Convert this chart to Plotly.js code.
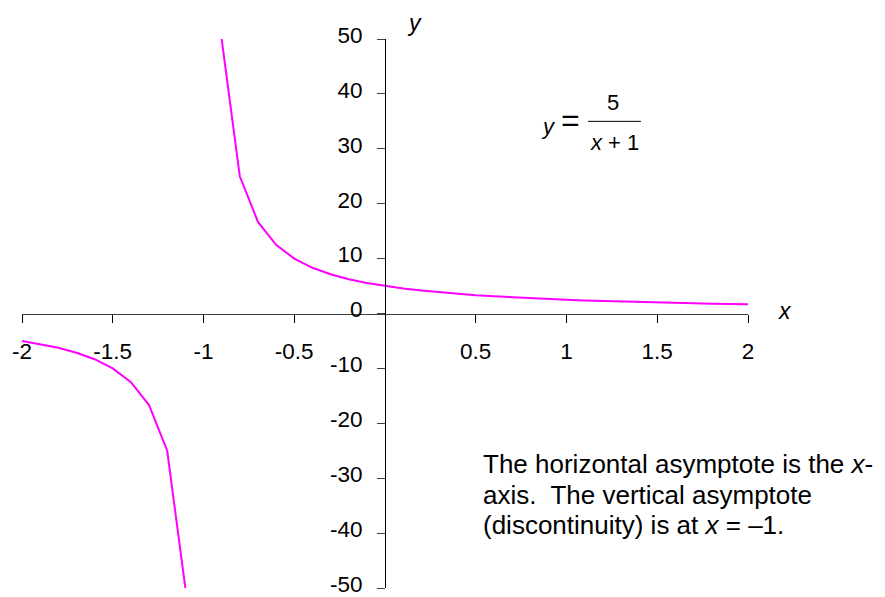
<!DOCTYPE html>
<html>
<head>
<meta charset="utf-8">
<script src="https://cdn.plot.ly/plotly-3.0.1.min.js"></script>
<style>
  html, body { margin: 0; padding: 0; background: #ffffff; }
  #chart { width: 885px; height: 597px; }
</style>
</head>
<body>
<div id="chart"></div>
<script>
// y = 5 / (x + 1), sampled every 0.1 from -2 to 2; the point x = -1 is left out (null)
const xValues = [
  -2, -1.9, -1.8, -1.7, -1.6, -1.5, -1.4, -1.3, -1.2, -1.1,
  -1,
  -0.9, -0.8, -0.7, -0.6, -0.5, -0.4, -0.3, -0.2, -0.1,
  0, 0.1, 0.2, 0.3, 0.4, 0.5, 0.6, 0.7, 0.8, 0.9,
  1, 1.1, 1.2, 1.3, 1.4, 1.5, 1.6, 1.7, 1.8, 1.9, 2
];
const yValues = [
  -5, -5.56, -6.25, -7.14, -8.33, -10, -12.5, -16.67, -25, -50,
  null,
  50, 25, 16.67, 12.5, 10, 8.33, 7.14, 6.25, 5.56,
  5, 4.55, 4.17, 3.85, 3.57, 3.33, 3.13, 2.94, 2.78, 2.63,
  2.5, 2.38, 2.27, 2.17, 2.08, 2, 1.92, 1.85, 1.79, 1.72, 1.67
];

const xRange = [-2, 2];
const yRange = [-50, 50];
const xTickValues = [-2, -1.5, -1, -0.5, 0.5, 1, 1.5, 2];
const xTickLabels = ['-2', '-1.5', '-1', '-0.5', '0.5', '1', '1.5', '2'];
const yTickValues = [-50, -40, -30, -20, -10, 0, 10, 20, 30, 40, 50];
const yTickLabels = ['-50', '-40', '-30', '-20', '-10', '0', '10', '20', '30', '40', '50'];

const FONT = 'Liberation Sans, Arial, sans-serif';

// data units -> paper fractions (the plot area spans the whole domain)
const px = v => (v - xRange[0]) / (xRange[1] - xRange[0]);
const py = v => (v - yRange[0]) / (yRange[1] - yRange[0]);

// axes cross at the origin
const yAxisPos = px(0);
const xAxisPos = py(0);

const trace = {
  x: xValues,
  y: yValues,
  type: 'scatter',
  mode: 'lines',
  connectgaps: false,
  line: { color: '#ff00ff', width: 2 },
  hoverinfo: 'x+y'
};

const textFont = { family: FONT, size: 26, color: '#000000' };
const mathFont = { family: FONT, size: 22, color: '#000000' };

function label(x, y, text, font, xanchor) {
  return { x: px(x), y: py(y), xref: 'paper', yref: 'paper', text: text, showarrow: false,
           font: font, xanchor: xanchor || 'center', yanchor: 'middle', align: 'left' };
}

const annotations = [
  // axis names
  label(0.165, 53.0, '<i>y</i>', { family: FONT, size: 23, color: '#000' }),
  label(2.204, 0.5, '<i>x</i>', { family: FONT, size: 23, color: '#000' }),

  // the equation
  label(0.902, 34.0, '<i>y</i>', mathFont),
  label(1.022, 35.2, '=', { family: FONT, size: 32, color: '#000' }),
  label(1.256, 38.4, '5', mathFont),
  label(1.267, 31.2, '<i>x</i> + 1', mathFont),

  // note about the asymptotes
  label(0.53, -27.4, 'The horizontal asymptote is the <i>x</i>-', textFont, 'left'),
  label(0.53, -33.0, 'axis.  The vertical asymptote', textFont, 'left'),
  label(0.53, -38.5, '(discontinuity) is at <i>x</i> = \u20131.', textFont, 'left')
];

const shapes = [
  // fraction bar of the equation
  { type: 'line', xref: 'x', yref: 'y', x0: 1.118, x1: 1.41, y0: 35.0, y1: 35.0,
    line: { color: '#000000', width: 1 } }
];

const tickFont = { family: FONT, size: 22.5, color: '#000000' };

const layout = {
  width: 885,
  height: 597,
  margin: { l: 22, r: 137, t: 39, b: 9, pad: 0 },
  paper_bgcolor: '#ffffff',
  plot_bgcolor: '#ffffff',
  showlegend: false,
  font: { family: FONT, size: 22, color: '#000000' },
  xaxis: {
    range: xRange,
    anchor: 'free',
    position: xAxisPos,
    showgrid: false,
    zeroline: false,
    showline: true,
    linecolor: '#404040',
    linewidth: 1.5,
    ticks: 'outside',
    ticklen: 8,
    tickwidth: 1,
    tickcolor: '#000000',
    tickvals: xTickValues,
    ticktext: xTickLabels,
    ticklabelstandoff: 9,
    ticklabeloverflow: 'allow',
    tickfont: tickFont,
    fixedrange: true
  },
  yaxis: {
    range: yRange,
    anchor: 'free',
    position: yAxisPos,
    showgrid: false,
    zeroline: false,
    showline: true,
    linecolor: '#000000',
    linewidth: 1,
    ticks: 'outside',
    ticklen: 8,
    tickwidth: 1,
    tickcolor: '#404040',
    tickvals: yTickValues,
    ticktext: yTickLabels,
    ticklabelstandoff: 10,
    ticklabelshift: -4,
    ticklabeloverflow: 'allow',
    tickfont: tickFont,
    fixedrange: true
  },
  annotations: annotations,
  shapes: shapes
};

Plotly.newPlot('chart', [trace], layout, { displayModeBar: false, staticPlot: true });
</script>
</body>
</html>
